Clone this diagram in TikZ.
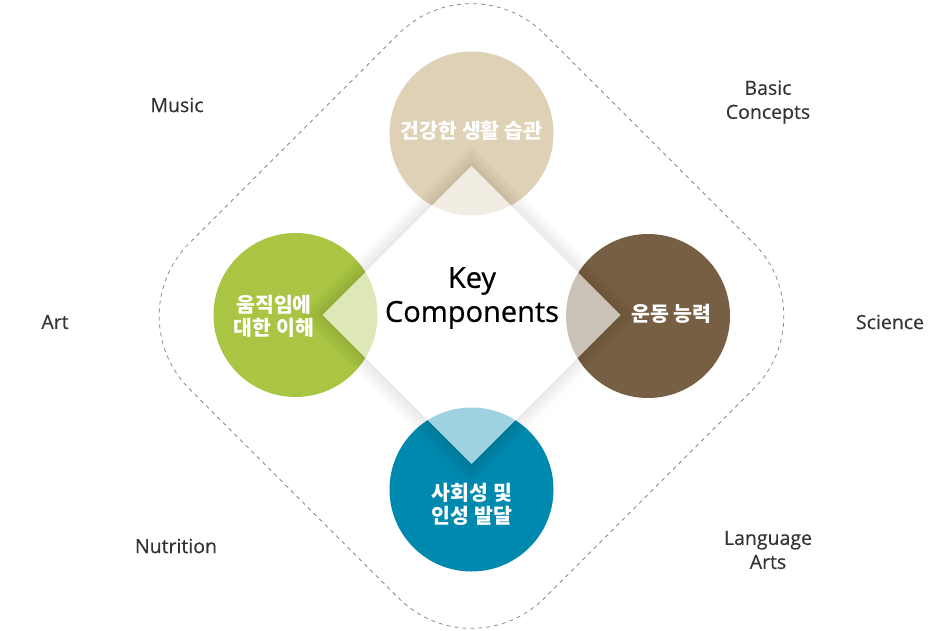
\documentclass[tikz,border=0pt]{standalone}
\usepackage{fontspec}
\setmainfont{Open Sans}
\newfontfamily\kr{Noto Sans CJK KR}
\newfontfamily\heavy{Open Sans}[FakeBold=0.6]
\newfontfamily\midw{Open Sans}[FakeBold=0.35]
\usepackage{tikz}
\usetikzlibrary{calc}

\definecolor{cBeige}{HTML}{DFD1B5}
\definecolor{cGreen}{HTML}{A9C543}
\definecolor{cBrown}{HTML}{765F43}
\definecolor{cTeal}{HTML}{0089AE}
\definecolor{labgray}{HTML}{333333}
\definecolor{dashgray}{HTML}{8C8C8C}

\begin{document}
\begin{tikzpicture}[x=1pt, y=-1pt,
    subj/.style={text=labgray, font=\midw\fontsize{19.5}{24}\selectfont, align=center},
    circtxt/.style={text=white, font=\kr\bfseries\fontsize{20.5}{23}\selectfont, align=center}]
    \useasboundingbox (0,0) rectangle (944,631);

    % 중심과 네 원의 중심
    \coordinate (C) at (471.5,315);
    \coordinate (T) at (471.5,133.5);
    \coordinate (L) at (295.5,315);
    \coordinate (R) at (648,316);
    \coordinate (B) at (471.5,489.5);

    % 점선 테두리
    \draw[dashgray, line width=.8pt, dash pattern=on 4pt off 4pt, rounded corners=103pt]
        (471.5,-39) -- (826.5,316) -- (471.5,671) -- (116.5,316) -- cycle;

    % 네 원
    \fill[cBeige] (T) circle[radius=82];
    \fill[cGreen] (L) circle[radius=82];
    \fill[cBrown] (R) circle[radius=82];
    \fill[cTeal]  (B) circle[radius=82];

    % 가운데 마름모의 그림자
    \foreach \s in {2,4,...,22}
        \fill[black, opacity=.009, even odd rule]
            (C) ++(0,-149) -- ++(149,149) -- ++(-149,149) -- ++(-149,-149) -- cycle
            (C) ++(0,{-149-\s}) -- ++({149+\s},{149+\s}) -- ++({-149-\s},{149+\s}) -- ++({-149-\s},{-149-\s}) -- cycle;

    % 가운데 마름모
    \fill[white, opacity=.62]
        (C) ++(0,-149) -- ++(149,149) -- ++(-149,149) -- ++(-149,-149) -- cycle;

    % 가운데 글자
    \node[font=\heavy\fontsize{29}{34}\selectfont, align=center, text=black] (key) at (472,298) {Key\\Components};

    % 원 안의 글자
    \node[circtxt] (tt) at (471.5,131) {건강한 생활 습관};
    \node[circtxt] (lt) at (274,316) {움직임에\\대한 이해};
    \node[circtxt] (rt) at (671.5,314) {운동 능력};
    \node[circtxt] (bt) at (472,504) {사회성 및\\인성 발달};

    % 바깥 과목들
    \node[subj] (music) at (177,105) {Music};
    \node[subj] (basic) at (768,102) {Basic\\Concepts};
    \node[subj] (art)   at (55,322) {Art};
    \node[subj] (sci)   at (890,322) {Science};
    \node[subj] (nutri) at (176,546) {Nutrition};
    \node[subj] (lang)  at (768,550) {Language\\Arts};
\end{tikzpicture}
\end{document}
